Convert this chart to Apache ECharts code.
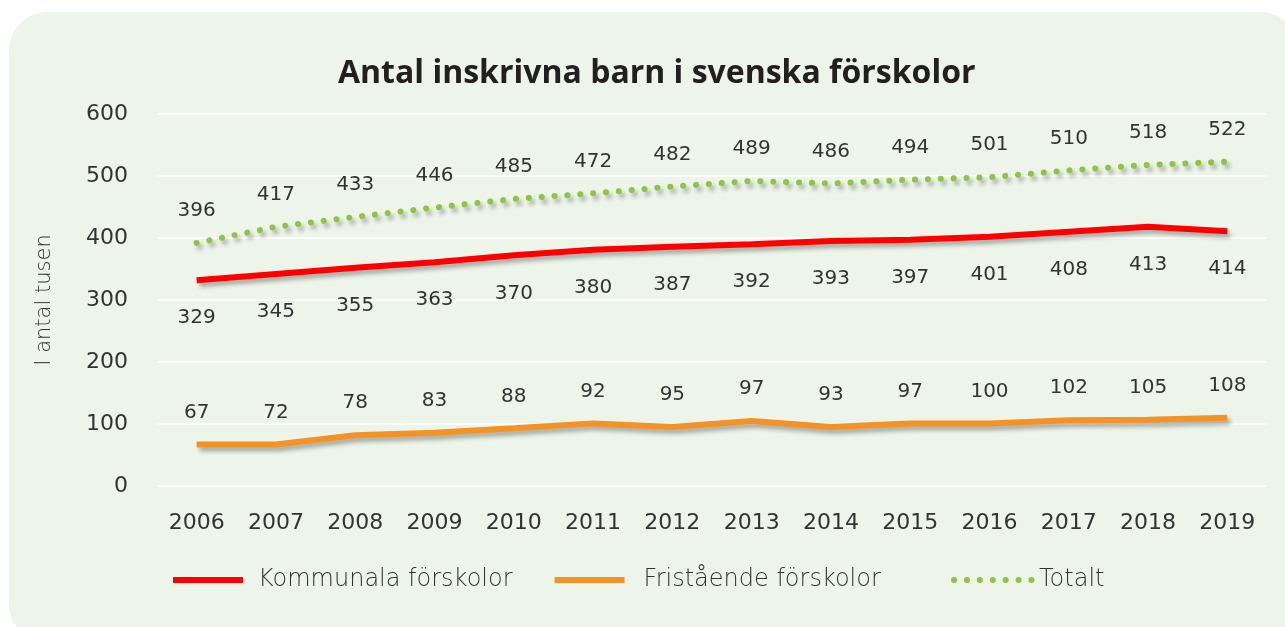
<!DOCTYPE html>
<html>
<head>
<meta charset="utf-8">
<script src="https://cdn.jsdelivr.net/npm/echarts@6/dist/echarts.min.js"></script>
<style>
  html, body { margin: 0; padding: 0; background: #ffffff; }
  #chart { width: 1285px; height: 627px; }
</style>
</head>
<body>
<div id="chart"></div>
<script>
// years on the x axis
const years = ['2006', '2007', '2008', '2009', '2010', '2011', '2012', '2013', '2014', '2015', '2016', '2017', '2018', '2019'];

// line positions as drawn (thousands)
const kommunala = [332, 342, 352, 361, 372, 381, 386, 390, 395, 397, 402, 410, 418, 411];
const fristaende = [67, 67, 82, 86, 93, 101, 95, 105, 95, 101, 101, 106, 107, 110];
const totalt = [392, 418, 434, 449, 463, 472, 483, 492, 488, 494, 498, 509, 518, 523];

// printed value labels
const kommunalaLabels = [329, 345, 355, 363, 370, 380, 387, 392, 393, 397, 401, 408, 413, 414];
const fristaendeLabels = [67, 72, 78, 83, 88, 92, 95, 97, 93, 97, 100, 102, 105, 108];
const totaltLabels = [396, 417, 433, 446, 485, 472, 482, 489, 486, 494, 501, 510, 518, 522];

const FONT = '"DejaVu Sans", sans-serif';
const shadow = {
  shadowColor: 'rgba(0, 0, 0, 0.3)',
  shadowBlur: 4,
  shadowOffsetX: 3,
  shadowOffsetY: 4
};

const chart = echarts.init(document.getElementById('chart'));

function labelFrom(texts, position, distance) {
  return {
    show: true,
    position: position,
    distance: distance,
    fontFamily: FONT,
    fontSize: 20,
    color: '#333333',
    formatter: (p) => String(texts[p.dataIndex])
  };
}

function lineSeries(name, data, color, labels, pos, dist, extraLine) {
  return {
    name: name,
    type: 'line',
    data: data,
    symbol: 'circle',
    symbolSize: 0,
    showSymbol: true,
    color: color,
    itemStyle: { color: color },
    lineStyle: Object.assign({ color: color, width: 6 }, shadow, extraLine || {}),
    label: labelFrom(labels, pos, dist),
    emphasis: { disabled: true },
    z: 3
  };
}

const legendText = {
  fontFamily: FONT,
  fontWeight: 200,
  fontSize: 24,
  color: '#333333'
};

chart.setOption({
  backgroundColor: '#ffffff',
  animation: false,
  graphic: [{
    type: 'rect',
    z: -10,
    silent: true,
    shape: { x: 9, y: 12, width: 1290, height: 630, r: 38 },
    style: { fill: '#EDF5EA' }
  }],
  title: {
    text: 'Antal inskrivna barn i svenska förskolor',
    left: 333,
    top: 53,
    textStyle: {
      fontFamily: '"Open Sans", sans-serif',
      fontWeight: 'bold',
      fontSize: 32,
      color: '#231f20'
    }
  },
  legend: [
    {
      left: 165,
      top: 563,
      itemWidth: 70,
      itemHeight: 14,
      itemGap: 39,
      itemStyle: { opacity: 0 },
      lineStyle: { width: 6 },
      textStyle: Object.assign({ padding: [0, 0, 0, 10] }, legendText),
      data: [
        { name: 'Kommunala förskolor' },
        { name: 'Fristående förskolor', textStyle: { padding: [0, 0, 0, 14] } }
      ]
    },
    {
      left: 946,
      top: 563,
      itemWidth: 80,
      itemHeight: 14,
      itemStyle: { opacity: 0 },
      lineStyle: { width: 6 },
      textStyle: Object.assign({ padding: [0, 0, 0, 0] }, legendText),
      data: ['Totalt']
    }
  ],
  grid: { left: 157, right: 18, top: 114, bottom: 141 },
  xAxis: {
    type: 'category',
    data: years,
    boundaryGap: true,
    axisLine: { show: false },
    axisTick: { show: false },
    axisLabel: {
      margin: 26,
      fontFamily: FONT,
      fontSize: 22,
      color: '#333333'
    }
  },
  yAxis: {
    type: 'value',
    min: 0,
    max: 600,
    interval: 100,
    name: 'I antal tusen',
    nameLocation: 'middle',
    nameGap: 102,
    nameTextStyle: {
      fontFamily: FONT,
      fontWeight: 200,
      fontSize: 21,
      color: '#333333'
    },
    axisLine: { show: false },
    axisTick: { show: false },
    axisLabel: {
      margin: 29,
      fontFamily: FONT,
      fontSize: 22,
      color: '#333333'
    },
    splitLine: { lineStyle: { color: '#ffffff', width: 1.5 } }
  },
  series: [
    lineSeries('Kommunala förskolor', kommunala, '#FF0000', kommunalaLabels, 'bottom', 28),
    lineSeries('Fristående förskolor', fristaende, '#F39325', fristaendeLabels, 'top', 22),
    lineSeries('Totalt', totalt, '#8DC63F', totaltLabels, 'top', 22, { type: [0.1, 12.8], cap: 'round' })
  ]
});
</script>
</body>
</html>
